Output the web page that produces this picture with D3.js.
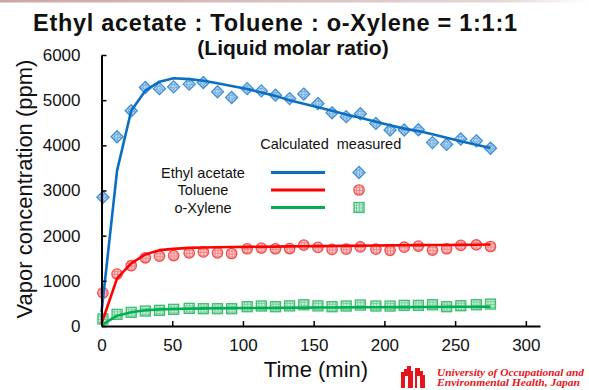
<!DOCTYPE html>
<html>
<head>
<meta charset="utf-8">
<script src="https://cdn.jsdelivr.net/npm/d3@7"></script>
<style>
  body { margin: 0; background: #fff; }
  svg { font-family: "Liberation Sans", Arial, sans-serif; }
</style>
</head>
<body>
<div id="chart"></div>
<script>
// sampling times (min)
var times = [1, 11, 21, 31, 41, 51, 62, 72, 82, 92, 103, 113, 123, 133, 143, 153, 163, 173, 183, 194, 204, 214, 224, 234, 244, 254, 265, 275];

// measured values (ppm)
var ethylMeasured = [2850, 4190, 4765, 5280, 5255, 5295, 5355, 5390, 5185, 5060, 5255, 5205, 5110, 5035, 5135, 4925, 4720, 4635, 4700, 4485, 4340, 4340, 4345, 4060, 4020, 4140, 4100, 3935];
var tolueneMeasured = [735, 1150, 1335, 1510, 1545, 1560, 1620, 1640, 1620, 1605, 1710, 1725, 1710, 1715, 1790, 1740, 1695, 1700, 1750, 1700, 1675, 1745, 1770, 1680, 1710, 1785, 1795, 1760];
var xyleneMeasured = [155, 258, 303, 331, 347, 369, 391, 383, 383, 383, 427, 442, 427, 445, 470, 445, 427, 442, 464, 442, 442, 457, 457, 471, 427, 449, 471, 486];

// calculated curves (ppm)
var calcTimes = [0, 11, 21, 31, 41, 51, 62, 72, 82, 92, 103, 113, 123, 133, 143, 153, 163, 173, 183, 194, 204, 214, 224, 234, 244, 254, 265, 275];
var ethylCalc = [300, 3440, 4765, 5210, 5410, 5485, 5465, 5430, 5375, 5315, 5245, 5170, 5095, 5000, 4920, 4845, 4765, 4680, 4610, 4520, 4445, 4370, 4315, 4245, 4170, 4090, 4015, 3940];
var tolueneCalc = [50, 1055, 1385, 1585, 1680, 1708, 1730, 1739, 1745, 1750, 1752, 1755, 1758, 1762, 1765, 1768, 1772, 1775, 1778, 1781, 1784, 1787, 1790, 1792, 1795, 1797, 1800, 1803];
var xyleneCalc = [20, 228, 303, 350, 368, 378, 385, 390, 393, 396, 398, 400, 402, 404, 406, 408, 410, 412, 414, 415, 417, 418, 420, 422, 424, 425, 427, 429];

var xTicks = [0, 50, 100, 150, 200, 250, 300];
var yTicks = [0, 1000, 2000, 3000, 4000, 5000, 6000];
var seriesNames = ['Ethyl acetate', 'Toluene', 'o-Xylene'];

var W = 589, H = 390;
var margin = {top: 55, right: 49, bottom: 64, left: 101.5};
var width = W - margin.left - margin.right,
    height = H - margin.top - margin.bottom;

var svg = d3.select('#chart').append('svg')
    .attr('width', W)
    .attr('height', H);

var defs = svg.append('defs');

// faint slide-header shadow at the very top
var grad = defs.append('linearGradient').attr('id', 'topShade');
grad.append('stop').attr('offset', '0%').attr('stop-color', '#c9a7a7');
grad.append('stop').attr('offset', '85%').attr('stop-color', '#e6d6d6');
grad.append('stop').attr('offset', '100%').attr('stop-color', '#ffffff');
svg.append('rect').attr('x', 0).attr('y', 0).attr('width', W).attr('height', 2.5)
    .attr('fill', 'url(#topShade)');

// marker patterns
function gridPattern(id, bg, fg) {
    var p = defs.append('pattern')
        .attr('id', id)
        .attr('patternUnits', 'userSpaceOnUse')
        .attr('width', 3).attr('height', 3);
    p.append('rect').attr('width', 3).attr('height', 3).attr('fill', bg);
    p.append('path').attr('d', 'M0,0.5H3M0.5,0V3').attr('stroke', fg).attr('stroke-width', 0.8);
}
gridPattern('pBlue', '#cfe2f5', '#7fb0df');
gridPattern('pRed', '#fbc9c9', '#f27a7a');
gridPattern('pGreen', '#c9ecd7', '#6ccb95');

var series = [
    {name: seriesNames[0], meas: ethylMeasured, calc: ethylCalc, color: '#0a6fc2', mstroke: '#3a8fd6', fill: 'url(#pBlue)', shape: 'diamond'},
    {name: seriesNames[1], meas: tolueneMeasured, calc: tolueneCalc, color: '#ff0000', mstroke: '#f24d4d', fill: 'url(#pRed)', shape: 'circle'},
    {name: seriesNames[2], meas: xyleneMeasured, calc: xyleneCalc, color: '#00b050', mstroke: '#3cbf72', fill: 'url(#pGreen)', shape: 'square'}
];

var g = svg.append('g')
    .attr('transform', 'translate(' + margin.left + ',' + margin.top + ')');

var x = d3.scaleLinear().domain([0, 310]).range([0, width]);
var y = d3.scaleLinear().domain([0, 6000]).range([height, 0]);

// draw one marker
function marker(sel, s) {
    if (s.shape === 'diamond') {
        sel.append('path').attr('d', 'M0,-6L6,0L0,6L-6,0Z')
            .attr('fill', s.fill).attr('stroke', s.mstroke).attr('stroke-width', 1.3);
        sel.append('path').attr('d', 'M0,-3L3,0L0,3L-3,0Z')
            .attr('fill', 'none').attr('stroke', s.mstroke).attr('stroke-width', 0.6);
    } else if (s.shape === 'circle') {
        sel.append('circle').attr('r', 5.2)
            .attr('fill', s.fill).attr('stroke', s.mstroke).attr('stroke-width', 1.3);
    } else {
        sel.append('rect').attr('x', -5).attr('y', -5).attr('width', 10).attr('height', 10)
            .attr('fill', s.fill).attr('stroke', s.mstroke).attr('stroke-width', 1.3);
    }
}

// measured points
series.forEach(function (s) {
    g.append('g').selectAll('g')
        .data(s.meas)
        .enter().append('g')
        .attr('transform', function (d, i) { return 'translate(' + x(times[i]) + ',' + y(d) + ')'; })
        .each(function () { marker(d3.select(this), s); });
});

// calculated lines
var line = d3.line()
    .x(function (d, i) { return x(calcTimes[i]); })
    .y(function (d) { return y(d); });

series.forEach(function (s) {
    g.append('path')
        .datum(s.calc)
        .attr('fill', 'none')
        .attr('stroke', s.color)
        .attr('stroke-width', 2.6)
        .attr('stroke-linejoin', 'round')
        .attr('d', line);
});

// axes
var xAxis = g.append('g')
    .attr('transform', 'translate(0,' + height + ')')
    .call(d3.axisBottom(x).tickValues(xTicks).tickFormat(d3.format('d'))
        .tickSizeInner(-5).tickSizeOuter(0).tickPadding(13));
var yAxis = g.append('g')
    .call(d3.axisLeft(y).tickValues(yTicks).tickFormat(d3.format('d'))
        .tickSizeInner(-5).tickSizeOuter(0).tickPadding(21));
[xAxis, yAxis].forEach(function (a) {
    a.select('.domain').attr('stroke', '#000').attr('stroke-width', 2);
    a.selectAll('.tick line').attr('stroke', '#000').attr('stroke-width', 1.5);
    a.selectAll('.tick text').attr('font-size', 17).attr('fill', '#111')
        .attr('font-family', '"Liberation Sans", Arial, sans-serif');
});

// axis titles
svg.append('text')
    .attr('x', 316).attr('y', 377)
    .attr('text-anchor', 'middle')
    .attr('font-size', 22).attr('fill', '#111')
    .text('Time (min)');
svg.append('text')
    .attr('transform', 'translate(32,189) rotate(-90)')
    .attr('text-anchor', 'middle')
    .attr('font-size', 22).attr('fill', '#111')
    .text('Vapor concentration (ppm)');

// titles
svg.append('text')
    .attr('x', 33).attr('y', 31)
    .attr('font-size', 23.5).attr('font-weight', 'bold').attr('fill', '#111')
    .attr('textLength', 484).attr('lengthAdjust', 'spacing')
    .text('Ethyl acetate : Toluene : o-Xylene = 1:1:1');
svg.append('text')
    .attr('x', 293).attr('y', 55)
    .attr('text-anchor', 'middle')
    .attr('font-size', 21).attr('font-weight', 'bold').attr('fill', '#111')
    .text('(Liquid molar ratio)');

// legend
var leg = svg.append('g');
leg.append('text').attr('x', 294.5).attr('y', 149).attr('text-anchor', 'middle')
    .attr('font-size', 14.5).attr('fill', '#111').text('Calculated');
leg.append('text').attr('x', 369).attr('y', 149).attr('text-anchor', 'middle')
    .attr('font-size', 14.5).attr('fill', '#111').text('measured');
series.forEach(function (s, i) {
    var ly = 172.5 + i * 17.5;
    leg.append('text').attr('x', 203).attr('y', ly + 5).attr('text-anchor', 'middle')
        .attr('font-size', 14.5).attr('fill', '#111').text(s.name);
    leg.append('line').attr('x1', 271).attr('x2', 325).attr('y1', ly).attr('y2', ly)
        .attr('stroke', s.color).attr('stroke-width', 2.8);
    var m = leg.append('g').attr('transform', 'translate(359,' + ly + ')');
    marker(m, s);
});

// university logo
var logo = svg.append('g').attr('transform', 'translate(401,366)');
logo.append('path')
    .attr('d', 'M0,6h3v-3h3v-3h4v5h2v17h-12Z M14,2h5v3h3v4h2v13h-10Z')
    .attr('fill', '#e8141c');
logo.append('path')
    .attr('d', 'M4,10h3v12h-3Z M16,10h3v12h-3Z')
    .attr('fill', '#fff');
svg.append('text')
    .attr('x', 437).attr('y', 376)
    .attr('font-family', '"Liberation Serif", "Times New Roman", serif')
    .attr('font-style', 'italic').attr('font-weight', 'bold')
    .attr('font-size', 10).attr('fill', '#e8141c')
    .attr('textLength', 147).attr('lengthAdjust', 'spacingAndGlyphs')
    .text('University of Occupational and');
svg.append('text')
    .attr('x', 437).attr('y', 385.5)
    .attr('font-family', '"Liberation Serif", "Times New Roman", serif')
    .attr('font-style', 'italic').attr('font-weight', 'bold')
    .attr('font-size', 10).attr('fill', '#e8141c')
    .attr('textLength', 143).attr('lengthAdjust', 'spacingAndGlyphs')
    .text('Environmental Health, Japan');
</script>
</body>
</html>
